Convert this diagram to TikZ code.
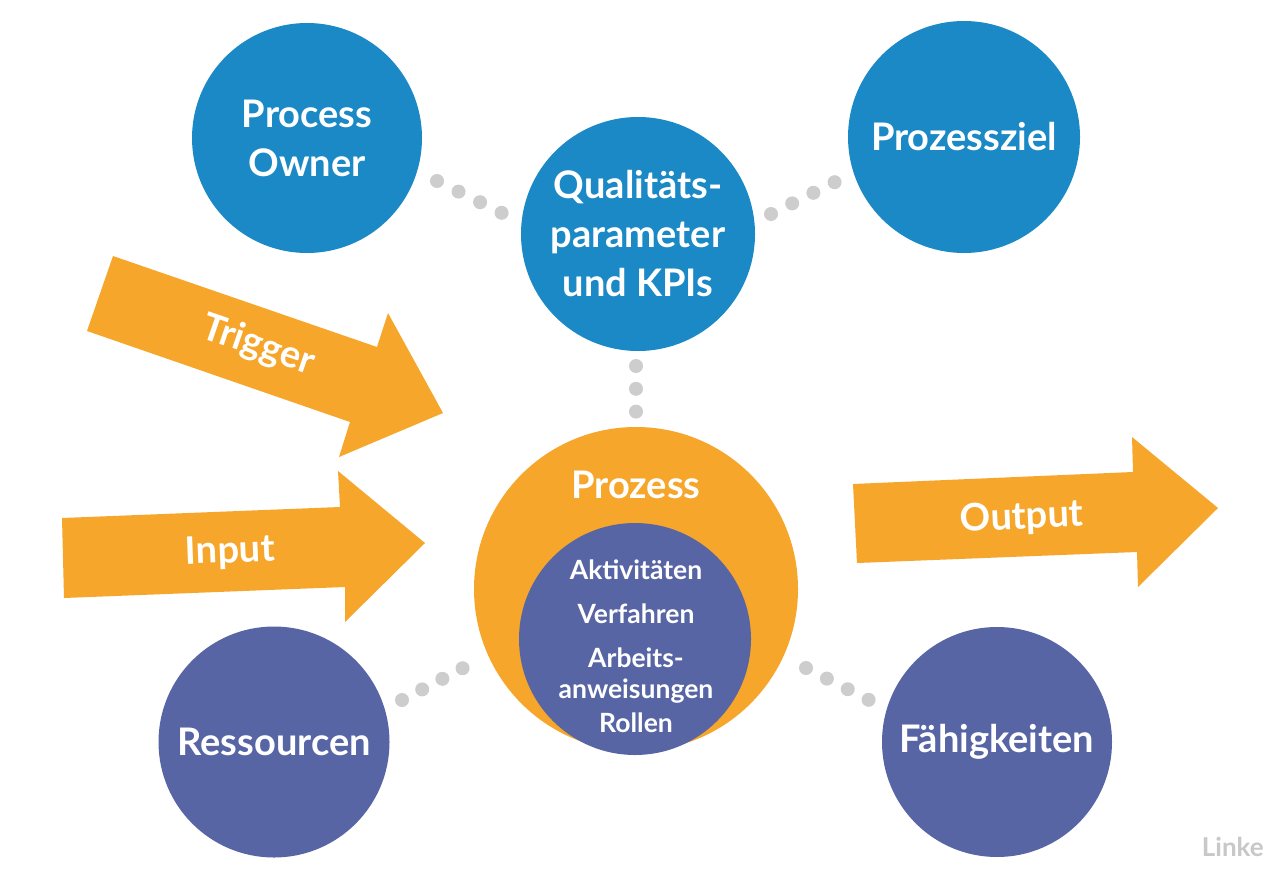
\documentclass[tikz,border=0pt]{standalone}
\usepackage{fontspec}
\setmainfont{Lato}
\definecolor{pblue}{RGB}{26,137,197}
\definecolor{porange}{RGB}{246,166,42}
\definecolor{ppurple}{RGB}{88,101,165}
\definecolor{dotgrey}{RGB}{205,205,205}
\definecolor{wmgrey}{RGB}{200,200,200}
\begin{document}
\begin{tikzpicture}[x=1pt,y=-1pt,
  bubble/.style={circle, inner sep=0pt, minimum size=#1, text=white, align=center,
    font=\bfseries\fontsize{38}{49}\selectfont},
  bluebub/.style={bubble=#1, fill=pblue},
  purplebub/.style={bubble=#1, fill=ppurple},
  lbl/.style={text=white, align=center, inner sep=0pt, font=\bfseries\fontsize{38}{49}\selectfont},
  smalllbl/.style={text=white, align=center, inner sep=0pt, font=\bfseries\fontsize{26.5}{31}\selectfont},
  dotconn/.style={draw=dotgrey, line width=14pt, line cap=round, dash pattern=on 0pt off #1},
  arrowshape/.style={fill=porange}
]
\useasboundingbox[fill=white] (0,0) rectangle (1265,880);

% arrows
\fill[arrowshape] (113,256) -- (377,347) -- (388,313) -- (443,413) -- (339,457) -- (350,422) -- (87,331) -- cycle;
\fill[arrowshape] (62,518) -- (340,507) -- (338,471) -- (425,543) -- (345,622) -- (345,587) -- (64,598) -- cycle;
\fill[arrowshape] (853,484) -- (1133,472) -- (1132,437) -- (1218,508) -- (1138,587) -- (1137,552) -- (857,563) -- cycle;
\node[lbl, rotate=-19] (trig) at (258,346) {Trigger};
\node[lbl, rotate=2.3] (inp) at (230,552) {Input};
\node[lbl, rotate=2.4] (outp) at (1022,518) {Output};

% dot connector end points
\coordinate (d1a) at (437,181); \coordinate (d1b) at (502,213);
\coordinate (d2a) at (771,214); \coordinate (d2b) at (835,182);
\coordinate (d3a) at (636,366); \coordinate (d3b) at (636,412);
\coordinate (d4a) at (402,700); \coordinate (d4b) at (463,668);
\coordinate (d5a) at (806,668); \coordinate (d5b) at (869,700);
\draw[dotconn=24pt] (d1a) -- (d1b);
\draw[dotconn=23.7pt] (d2a) -- (d2b);
\draw[dotconn=22.8pt] (d3a) -- (d3b);
\draw[dotconn=22.8pt] (d4a) -- (d4b);
\draw[dotconn=23.4pt] (d5a) -- (d5b);

% circles
\node[bluebub=230pt] (owner) at (307,138) {Process\\Owner};
\node[bluebub=234pt] (kpi) at (638,234) {Qualitäts-\\parameter\\und KPIs};
\node[bluebub=232pt] (ziel) at (964,137) {Prozessziel};

\node[circle, fill=porange, minimum size=324pt, inner sep=0pt] (proz) at (636,589) {};
\node[lbl] (prozl) at (636,485) {Prozess};
\node[circle, fill=ppurple, minimum size=232pt, inner sep=0pt] (inner) at (635,639) {};
\node[smalllbl] (innerl) at (636,646) {Aktivitäten\\[13pt]Verfahren\\[13pt]Arbeits-\\anweisungen\\[3pt]Rollen};

\node[purplebub=231pt] (res) at (274,742) {Ressourcen};
\node[purplebub=230pt] (faeh) at (997,742) {Fähigkeiten};

\node[anchor=base east, inner sep=0pt, text=wmgrey, font=\bfseries\fontsize{26}{26}\selectfont] (wm) at (1264,856) {Linke};
\end{tikzpicture}
\end{document}
